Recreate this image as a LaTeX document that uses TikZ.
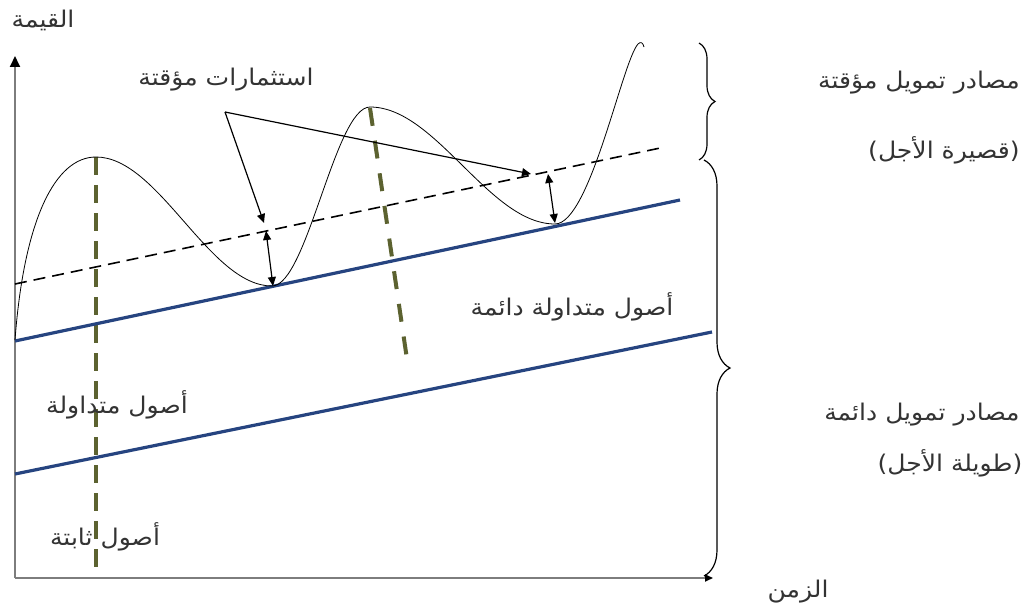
\documentclass[tikz,border=0pt]{standalone}
\usepackage{fontspec}
\usetikzlibrary{arrows.meta,decorations.pathreplacing}
\newfontfamily\arabicfont[Script=Arabic,FakeStretch=1.09]{DejaVu Sans}
\TeXXeTstate=1
\definecolor{axisgray}{RGB}{125,125,125}
\definecolor{lineblue}{RGB}{38,68,128}
\definecolor{olivedash}{RGB}{92,98,48}
\begin{document}
\begin{tikzpicture}[x=1pt,y=-1pt,
  lbl/.style={font={\arabicfont\fontsize{23}{26}\selectfont}, inner sep=0pt, text=black!80},
  axisline/.style={draw=axisgray, line width=1.8pt},
  blueline/.style={draw=lineblue, line width=3.2pt},
  greendash/.style={draw=olivedash, line width=4.5pt, dash pattern=on 18pt off 10pt},
  blackdash/.style={draw=black, line width=1.6pt, dash pattern=on 12pt off 7pt},
  curve/.style={draw=black, line width=0.8pt},
  pointer/.style={draw=black, line width=1.2pt, -{Triangle[length=9pt,width=8pt]}},
  twoway/.style={draw=black, line width=1.2pt, {Triangle[length=9pt,width=8pt]}-{Triangle[length=9pt,width=8pt]}},
  bracestyle/.style={draw=black, line width=1.2pt, decorate}
]
\useasboundingbox (0,0) rectangle (1026,607);

% axes
\coordinate (O) at (15,578);
\coordinate (ytop) at (15,56);
\coordinate (xend) at (713,578);
\draw[axisline, -{Triangle[length=11pt,width=10pt,color=black]}] (O) -- (ytop);
\draw[axisline, -{Triangle[length=8pt,width=7pt,color=black]}] (O) -- (xend);

% green dashed lines
\coordinate (g1a) at (96,157);
\coordinate (g1b) at (96,570);
\draw[greendash] (g1a) -- (g1b);
\coordinate (g2a) at (370,108);
\coordinate (g2b) at (408,366);
\draw[greendash, line width=4pt, dash pattern=on 18pt off 15pt] (g2a) -- (g2b);

% blue lines
\coordinate (b1a) at (15,341);
\coordinate (b1b) at (680,200);
\draw[blueline] (b1a) -- (b1b);
\coordinate (b2a) at (15,474);
\coordinate (b2b) at (712,332);
\draw[blueline] (b2a) -- (b2b);

% black dashed trend line
\coordinate (da) at (15,284);
\coordinate (db) at (665,147);
\draw[blackdash] (da) -- (db);

% wave curve
\draw[curve] (15,340) .. controls (24,220) and (55,157) .. (96,157)
  .. controls (159,157) and (209,286) .. (272,286)
  .. controls (307,286) and (335,107) .. (370,107)
  .. controls (436,107) and (489,224) .. (555,224)
  .. controls (590,224) and (622,62) .. (638,44)
  .. controls (641,41) and (643,43) .. (644,47);

% label with pointers
\node[lbl] (inv) at (226,80) {\beginR استثمارات مؤقتة\endR};
\coordinate (apex) at (225,112);
\coordinate (p1) at (264,223);
\coordinate (p2) at (531,174);
\draw[pointer] (apex) -- (p1);
\draw[pointer] (apex) -- (p2);

% double arrows
\coordinate (d1a) at (266,231);
\coordinate (d1b) at (273,286);
\draw[twoway] (d1a) -- (d1b);
\coordinate (d2a) at (548,174);
\coordinate (d2b) at (555,223);
\draw[twoway] (d2a) -- (d2b);

% braces
\draw[bracestyle, decoration={brace, amplitude=16pt}] (699,43) -- (699,160);
\draw[bracestyle, decoration={brace, amplitude=26pt}] (704,160) -- (704,576);

% labels
\node[lbl] (val) at (43,20) {\beginR القيمة\endR};
\node[lbl] (time) at (798,592) {\beginR الزمن\endR};
\node[lbl] (tmpsrc) at (919,83) {\beginR مصادر تمويل مؤقتة\endR};
\node[lbl] (short) at (944,150) {\beginR (قصيرة الأجل)\endR};
\node[lbl] (permsrc) at (922,415) {\beginR مصادر تمويل دائمة\endR};
\node[lbl] (long) at (950,463) {\beginR (طويلة الأجل)\endR};
\node[lbl] (pca) at (572,307) {\beginR أصول متداولة دائمة\endR};
\node[lbl] (ca) at (117,405) {\beginR أصول متداولة\endR};
\node[lbl] (fa) at (105,537) {\beginR أصول ثابتة\endR};
\end{tikzpicture}
\end{document}
